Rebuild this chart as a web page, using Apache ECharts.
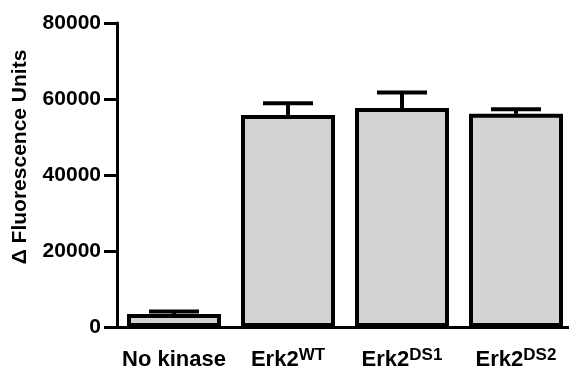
<!DOCTYPE html>
<html>
<head>
<meta charset="utf-8">
<script src="https://cdn.jsdelivr.net/npm/echarts@6/dist/echarts.min.js"></script>
<style>
  html, body { margin: 0; padding: 0; background: #fff; }
  #chart { width: 569px; height: 368px; }
</style>
</head>
<body>
<div id="chart"></div>
<script>
// categories as rich-text labels (base text + superscript)
const categories = ['No kinase', 'Erk2WT', 'Erk2DS1', 'Erk2DS2']
const labelBase = ['No kinase', 'Erk2', 'Erk2', 'Erk2']
const labelSup = ['', 'WT', 'DS1', 'DS2']
const means = [3400, 55800, 57600, 56100]
const errors = [700, 3100, 4100, 1200]
const yTicks = [0, 20000, 40000, 60000, 80000]

const FONT = 'Liberation Sans'

const chart = echarts.init(document.getElementById('chart'))

chart.setOption({
  animation: false,
  grid: {
    left: 117,
    top: 23,
    bottom: 41,
    right: -4,
    containLabel: false,
    outerBoundsMode: 'none'
  },
  xAxis: {
    type: 'category',
    data: categories,
    axisLine: { lineStyle: { color: '#000', width: 3 } },
    axisTick: { alignWithLabel: true, length: 9, lineStyle: { color: '#000', width: 3 } },
    axisLabel: {
      margin: 20,
      interval: 0,
      formatter: function (value, idx) {
        const sup = labelSup[idx] ? '{sup|' + labelSup[idx] + '}' : ''
        return '{base|' + labelBase[idx] + '}' + sup
      },
      rich: {
        base: { fontFamily: FONT, fontWeight: 'bold', fontSize: 22, color: '#000', lineHeight: 26 },
        sup: { fontFamily: FONT, fontWeight: 'bold', fontSize: 17, color: '#000', verticalAlign: 'top', lineHeight: 17 }
      }
    }
  },
  yAxis: {
    type: 'value',
    min: yTicks[0],
    max: yTicks[yTicks.length - 1],
    interval: yTicks[1] - yTicks[0],
    name: 'Δ Fluorescence Units',
    nameLocation: 'middle',
    nameGap: 86,
    nameTextStyle: {
      fontFamily: FONT, fontWeight: 'bold', fontSize: 21, color: '#000',
      padding: [0, 0, 0, 36]
    },
    axisLine: { show: true, lineStyle: { color: '#000', width: 3 } },
    axisTick: { show: true, length: 13, lineStyle: { color: '#000', width: 3 } },
    splitLine: { show: false },
    axisLabel: {
      margin: 16,
      fontFamily: FONT, fontWeight: 'bold', fontSize: 21, color: '#000',
      formatter: function (v) { return String(v) }
    }
  },
  series: [
    {
      type: 'bar',
      data: means,
      barWidth: 94,
      itemStyle: { color: '#d3d3d3', borderColor: '#000', borderWidth: 4 },
      z: 2
    },
    {
      type: 'custom',
      z: 3,
      data: means.map((m, i) => [i, m, m + errors[i]]),
      renderItem: function (params, api) {
        const base = api.coord([api.value(0), api.value(1)])
        const top = api.coord([api.value(0), api.value(2)])
        const half = 25
        const style = { stroke: '#000', lineWidth: 4 }
        return {
          type: 'group',
          children: [
            { type: 'line', shape: { x1: base[0], y1: base[1], x2: top[0], y2: top[1] }, style: style },
            { type: 'line', shape: { x1: top[0] - half, y1: top[1], x2: top[0] + half, y2: top[1] }, style: style }
          ]
        }
      }
    }
  ]
})
</script>
</body>
</html>
